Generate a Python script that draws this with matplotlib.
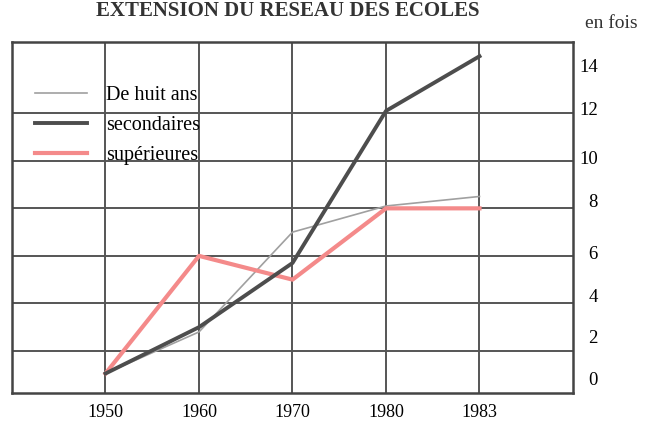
import matplotlib
matplotlib.use("Agg")
import matplotlib.pyplot as plt

years = ["1950", "1960", "1970", "1980", "1983"]
huit_ans = [1.05, 2.8, 7.0, 8.1, 8.5]
secondaires = [1.05, 3.0, 5.7, 12.1, 14.4]
superieures = [1.05, 6.0, 5.0, 8.0, 8.0]
ytick_labels = ["0", "2", "4", "6", "8", "10", "12", "14"]
ytick_pos = [0.85, 2.6, 4.35, 6.15, 8.35, 10.15, 12.2, 14.0]
ygrid = [2, 4, 6, 8, 10, 12, 14]

plt.rcParams["font.family"] = ["Liberation Serif", "DejaVu Serif"]

fig = plt.figure(figsize=(6.45, 4.28), dpi=100)
ax = fig.add_axes([12/645, 1-393/428, (573-12)/645, (393-42)/428])

x = list(range(len(years)))
grid_c = "#555555"
ax.set_xticks(x)
ax.set_xticklabels(years, fontsize=13)
ax.set_yticks(ygrid, minor=True)
ax.grid(True, which="major", axis="x", color=grid_c, lw=1.4)
ax.grid(True, which="minor", axis="y", color=grid_c, lw=1.4)
ax.set_axisbelow(True)
ax.yaxis.tick_right()
ax.set_yticks(ytick_pos)
ax.set_yticklabels(ytick_labels, fontsize=13.5, ha="right")
ax.tick_params(axis="y", which="both", length=0, pad=18)
ax.tick_params(axis="x", length=0, pad=8)
ax.set_xlim(-1.0, 5.0)
ax.set_ylim(0.23, 15.0)
for s in ax.spines.values():
    s.set_color("#444444")
    s.set_linewidth(1.8)

ax.plot(x, huit_ans, color="#a0a0a0", lw=1.2, label="De huit ans", zorder=3)
ax.plot(x, superieures, color="#f48a8a", lw=3.0, label="supérieures", zorder=3)
ax.plot(x, secondaires, color="#4d4d4d", lw=2.8, label="secondaires", zorder=4)

h, l = ax.get_legend_handles_labels()
order = [0, 2, 1]
leg = ax.legend([h[i] for i in order], [l[i] for i in order],
                loc="upper left", bbox_to_anchor=((35-12)/561, (393-86)/351),
                frameon=False, fontsize=14.5, handlelength=2.6,
                handletextpad=0.95, labelspacing=0.55, borderpad=0,
                borderaxespad=0)

fig.text(288/645, 1-16/428, "EXTENSION DU RESEAU DES ECOLES", ha="center",
         va="baseline", fontsize=15, fontweight="bold", color="#333333")
fig.text(611/645, 1-24/428, "en fois", ha="center", va="center",
         fontsize=14, color="#333333")

fig.savefig("out.png", dpi=100)
